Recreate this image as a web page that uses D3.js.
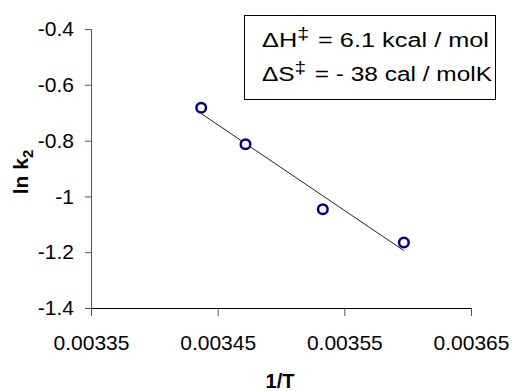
<!DOCTYPE html>
<html>
<head>
<meta charset="utf-8">
<script src="https://cdn.jsdelivr.net/npm/d3@7"></script>
<style>
  body { margin: 0; background: #fff; }
  svg { display: block; font-family: "Liberation Sans", Arial, sans-serif; }
</style>
</head>
<body>
<svg id="chart" width="513" height="391"></svg>
<script>
// values
const invT = [0.003437, 0.003472, 0.003533, 0.003597]
const lnK2 = [-0.682, -0.813, -1.046, -1.165]
const xTicks = [0.00335, 0.00345, 0.00355, 0.00365]
const yTicks = [-1.4, -1.2, -1, -0.8, -0.6, -0.4]
const noteLines = [
  { sym: 'ΔH', rest: '= 6.1 kcal / mol' },
  { sym: 'ΔS', rest: '= - 38 cal / molK' },
]

const svg = d3.select('#chart')
const plot = { left: 91, right: 471, top: 29, bottom: 308 }
const FONT = '"Liberation Sans", Arial, sans-serif'

const x = d3.scaleLinear().domain([0.00335, 0.00365]).range([plot.left, plot.right])
const y = d3.scaleLinear().domain([-1.4, -0.4]).range([plot.bottom, plot.top])

// plain hyphen for negatives, like the original
const fmtY = d => String(+d.toFixed(1))

// y axis
const yAxis = svg.append('g')
  .attr('transform', `translate(${plot.left},0)`)
  .call(d3.axisLeft(y).tickValues(yTicks).tickSize(6).tickPadding(11).tickFormat(fmtY))
yAxis.select('.domain').attr('stroke', '#555')
yAxis.selectAll('.tick line').attr('stroke', '#555')
yAxis.selectAll('text').attr('font-size', 21).attr('fill', '#000').style('font-family', FONT)

// x axis
const xAxis = svg.append('g')
  .attr('transform', `translate(0,${plot.bottom})`)
  .call(d3.axisBottom(x).tickValues(xTicks).tickSize(8).tickSizeOuter(0).tickPadding(19)
    .tickFormat(d => d.toFixed(5)))
xAxis.select('.domain').attr('stroke', '#000')
xAxis.selectAll('.tick line').attr('stroke', '#555')
xAxis.selectAll('text').attr('font-size', 21).attr('fill', '#000').style('font-family', FONT)

// axis titles
svg.append('text')
  .attr('x', (plot.left + plot.right) / 2 - 1)
  .attr('y', 388)
  .attr('text-anchor', 'middle')
  .attr('font-size', 20)
  .attr('font-weight', 'bold')
  .text('1/T')

const yTitle = svg.append('text')
  .attr('transform', `translate(28,172) rotate(-90)`)
  .attr('text-anchor', 'middle')
  .attr('font-size', 21)
  .attr('font-weight', 'bold')
yTitle.append('tspan').text('ln k')
yTitle.append('tspan').attr('font-size', 15).attr('dy', 5).text('2')

// least-squares trend line over the data range
const mx = d3.mean(invT), my = d3.mean(lnK2)
const slope = d3.sum(invT, (v, i) => (v - mx) * (lnK2[i] - my)) / d3.sum(invT, v => (v - mx) ** 2)
const fit = v => my + slope * (v - mx)
svg.append('path')
  .datum(d3.extent(invT).map(v => [v, fit(v)]))
  .attr('fill', 'none')
  .attr('stroke', '#222')
  .attr('stroke-width', 1)
  .attr('d', d3.line().x(d => x(d[0])).y(d => y(d[1])))

// data points
svg.selectAll('.pt')
  .data(invT.map((v, i) => [v, lnK2[i]]))
  .join('circle')
  .attr('class', 'pt')
  .attr('cx', d => x(d[0]))
  .attr('cy', d => y(d[1]))
  .attr('r', 4.8)
  .attr('fill', '#fff')
  .attr('stroke', '#000080')
  .attr('stroke-width', 2.5)

// note box
const box = svg.append('g')
box.append('rect')
  .attr('x', 244.5).attr('y', 15.5)
  .attr('width', 251).attr('height', 84)
  .attr('fill', '#fff')
  .attr('stroke', '#000')
  .attr('stroke-width', 1)

const noteWidth = [227, 230]
noteLines.forEach((l, i) => {
  const t = box.append('text')
    .attr('x', 262)
    .attr('y', 47 + i * 34)
    .attr('font-size', 20)
    .attr('textLength', noteWidth[i])
    .attr('lengthAdjust', 'spacingAndGlyphs')
  t.append('tspan').text(l.sym)
  t.append('tspan').attr('dy', -8).attr('font-size', 17).text('‡')
  t.append('tspan').attr('dy', 8).attr('dx', 7).text(l.rest)
})
</script>
</body>
</html>
